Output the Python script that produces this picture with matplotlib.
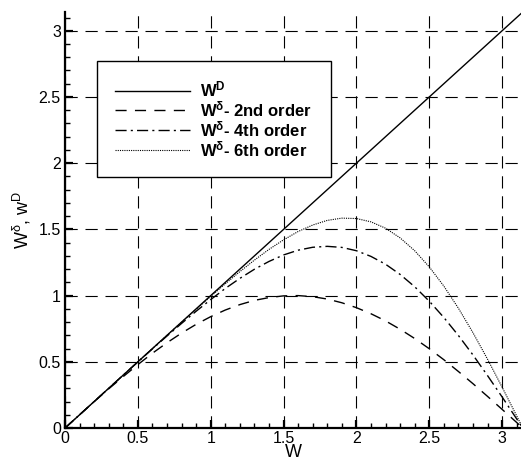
import matplotlib
matplotlib.use("Agg")
import matplotlib.pyplot as plt
from matplotlib.ticker import MultipleLocator

plt.rcParams['font.family'] = ['Liberation Sans', 'DejaVu Sans']
plt.rcParams['mathtext.fontset'] = 'custom'
plt.rcParams['mathtext.rm'] = 'Liberation Sans'
plt.rcParams['mathtext.it'] = 'Liberation Sans:italic'
plt.rcParams['mathtext.bf'] = 'Liberation Sans:bold'

# values
w = [0.0, 0.1, 0.2, 0.3, 0.4, 0.5, 0.6, 0.7, 0.8, 0.9, 1.0, 1.1, 1.2, 1.3, 1.4, 1.5,
     1.6, 1.7, 1.8, 1.9, 2.0, 2.1, 2.2, 2.3, 2.4, 2.5, 2.6, 2.7, 2.8, 2.9, 3.0, 3.1, 3.1416]
exact = [0.0, 0.1, 0.2, 0.3, 0.4, 0.5, 0.6, 0.7, 0.8, 0.9, 1.0, 1.1, 1.2, 1.3, 1.4, 1.5,
         1.6, 1.7, 1.8, 1.9, 2.0, 2.1, 2.2, 2.3, 2.4, 2.5, 2.6, 2.7, 2.8, 2.9, 3.0, 3.1, 3.1416]
order2 = [0.0, 0.100, 0.199, 0.296, 0.389, 0.479, 0.565, 0.644, 0.717, 0.783, 0.841, 0.891,
          0.932, 0.964, 0.985, 0.998, 1.000, 0.992, 0.974, 0.946, 0.909, 0.863, 0.809, 0.746,
          0.676, 0.599, 0.516, 0.427, 0.335, 0.239, 0.141, 0.042, 0.0]
order4 = [0.0, 0.100, 0.200, 0.300, 0.400, 0.499, 0.598, 0.695, 0.790, 0.882, 0.970, 1.054,
          1.130, 1.199, 1.258, 1.307, 1.343, 1.365, 1.372, 1.364, 1.339, 1.296, 1.237, 1.160,
          1.067, 0.958, 0.835, 0.699, 0.552, 0.396, 0.235, 0.069, 0.0]
order6 = [0.0, 0.100, 0.200, 0.300, 0.400, 0.500, 0.600, 0.700, 0.799, 0.897, 0.994, 1.089,
          1.181, 1.268, 1.349, 1.421, 1.484, 1.533, 1.568, 1.585, 1.582, 1.557, 1.509, 1.436,
          1.339, 1.217, 1.072, 0.905, 0.720, 0.520, 0.309, 0.092, 0.0]

fig = plt.figure(figsize=(5.21, 4.66), dpi=100)
ax = fig.add_axes([0.1248, 0.0815, 0.8785, 0.8927])

ax.plot(w, exact, color='black', lw=1.0, label=r'W$^{\mathbf{D}}$')
ax.plot(w, order2, color='black', lw=1.0, linestyle=(0, (8, 6)), label=r'W$^{\mathbf{\delta}}$- 2nd order')
ax.plot(w, order4, color='black', lw=1.0, linestyle=(0, (8, 3, 1.5, 3)), label=r'W$^{\mathbf{\delta}}$- 4th order')
ax.plot(w, order6, color='black', lw=0.8, linestyle=(0, (1, 1)), label=r'W$^{\mathbf{\delta}}$- 6th order')

ax.set_xlim(0, 3.1416)
ax.set_ylim(0, 3.1416)
ax.xaxis.set_major_locator(MultipleLocator(0.5))
ax.xaxis.set_minor_locator(MultipleLocator(0.1))
ax.yaxis.set_major_locator(MultipleLocator(0.5))
ax.yaxis.set_minor_locator(MultipleLocator(0.1))
ax.xaxis.set_major_formatter(plt.FuncFormatter(lambda v, p: f'{v:g}'))
ax.yaxis.set_major_formatter(plt.FuncFormatter(lambda v, p: f'{v:g}'))

ax.grid(True, which='major', color='black', lw=0.8, linestyle=(0, (11, 7)))
ax.set_axisbelow(True)

for s in ['top', 'right']:
    ax.spines[s].set_visible(False)
for s in ['left', 'bottom']:
    ax.spines[s].set_linewidth(1.6)

ax.tick_params(which='major', direction='in', length=6, width=1.6, labelsize=11.5)
ax.tick_params(which='minor', direction='in', length=3.5, width=1.0)
ax.tick_params(axis='x', pad=2)
ax.tick_params(axis='y', pad=3)

ax.set_xlabel('W', fontsize=13, labelpad=-1)
ax.set_ylabel(r'W$^{\mathrm{\delta}}$, w$^{\mathrm{D}}$', fontsize=13, labelpad=4)

leg = ax.legend(loc='upper left', bbox_to_anchor=(0.07, 0.882), prop={'weight': 'bold', 'size': 12},
                handlelength=4.5, frameon=True, fancybox=False, borderpad=1.1,
                labelspacing=0.0, handletextpad=0.6, borderaxespad=0)
leg.get_frame().set_edgecolor('black')
leg.get_frame().set_linewidth(1.0)
leg.get_frame().set_alpha(1)

fig.savefig('out.png', dpi=100)
